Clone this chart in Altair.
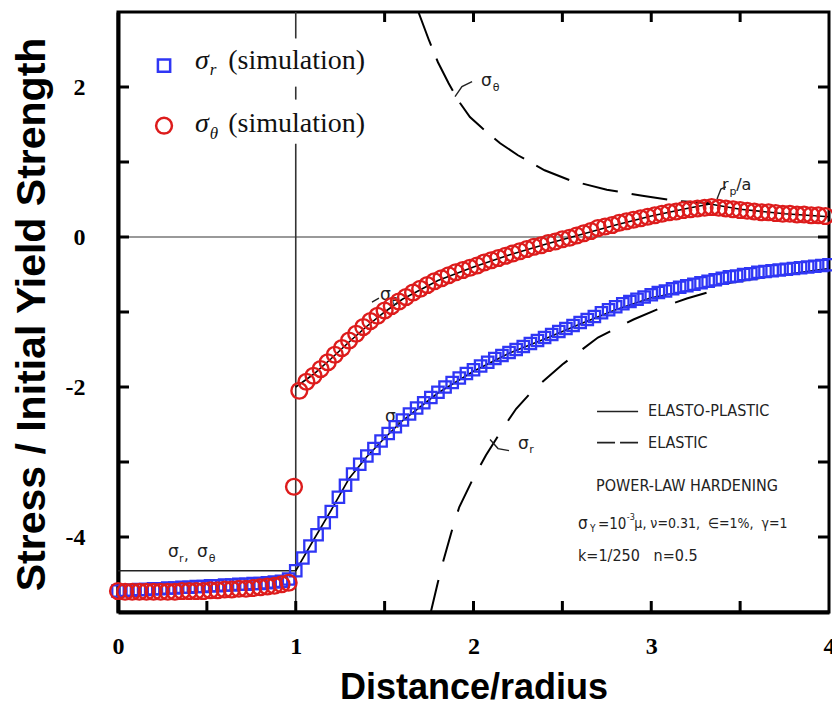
import altair as alt
import pandas as pd

# ---------------- simulation results ----------------
# sigma_r (squares)
sim_r_x = [0.00, 0.04, 0.08, 0.12, 0.16, 0.20, 0.24, 0.28, 0.32, 0.36,
           0.40, 0.44, 0.48, 0.52, 0.56, 0.60, 0.64, 0.68, 0.72, 0.76,
           0.80, 0.84, 0.88, 0.92, 0.96, 1.00, 1.04, 1.08, 1.12, 1.16,
           1.20, 1.24, 1.28, 1.32, 1.36, 1.40, 1.44, 1.48, 1.52, 1.56,
           1.60, 1.64, 1.68, 1.72, 1.76, 1.80, 1.84, 1.88, 1.92, 1.96,
           2.00, 2.04, 2.08, 2.12, 2.16, 2.20, 2.24, 2.28, 2.32, 2.36,
           2.40, 2.44, 2.48, 2.52, 2.56, 2.60, 2.64, 2.68, 2.72, 2.76,
           2.80, 2.84, 2.88, 2.92, 2.96, 3.00, 3.04, 3.08, 3.12, 3.16,
           3.20, 3.24, 3.28, 3.32, 3.36, 3.40, 3.44, 3.48, 3.52, 3.56,
           3.60, 3.64, 3.68, 3.72, 3.76, 3.80, 3.84, 3.88, 3.92, 3.96,
           4.00]
sim_r_y = [-4.72, -4.71, -4.71, -4.70, -4.70, -4.69, -4.69, -4.68, -4.68, -4.67,
           -4.67, -4.66, -4.66, -4.65, -4.65, -4.64, -4.64, -4.63, -4.63, -4.62,
           -4.62, -4.61, -4.60, -4.59, -4.56, -4.45, -4.28, -4.12, -3.97, -3.81,
           -3.66, -3.47, -3.31, -3.16, -3.03, -2.92, -2.82, -2.72, -2.62, -2.53,
           -2.44, -2.36, -2.28, -2.21, -2.14, -2.07, -2.00, -1.94, -1.88, -1.82,
           -1.77, -1.72, -1.67, -1.62, -1.58, -1.54, -1.50, -1.46, -1.42, -1.38,
           -1.34, -1.30, -1.26, -1.22, -1.18, -1.14, -1.10, -1.06, -1.01, -0.97,
           -0.93, -0.89, -0.86, -0.83, -0.80, -0.77, -0.74, -0.72, -0.69, -0.67,
           -0.65, -0.63, -0.61, -0.59, -0.57, -0.55, -0.53, -0.52, -0.50, -0.49,
           -0.47, -0.46, -0.45, -0.44, -0.43, -0.42, -0.41, -0.40, -0.39, -0.38,
           -0.37]

# sigma_theta (circles)
sim_t_x = [0.00, 0.04, 0.08, 0.12, 0.16, 0.20, 0.24, 0.28, 0.32, 0.36,
           0.40, 0.44, 0.48, 0.52, 0.56, 0.60, 0.64, 0.68, 0.72, 0.76,
           0.80, 0.84, 0.88, 0.92, 0.96, 0.99,
           1.02, 1.06, 1.10, 1.14, 1.18, 1.22, 1.26, 1.30, 1.34, 1.38,
           1.42, 1.46, 1.50, 1.54, 1.58, 1.62, 1.66, 1.70, 1.74, 1.78,
           1.82, 1.86, 1.90, 1.94, 1.98, 2.02, 2.06, 2.10, 2.14, 2.18,
           2.22, 2.26, 2.30, 2.34, 2.38, 2.42, 2.46, 2.50, 2.54, 2.58,
           2.62, 2.66, 2.70, 2.74, 2.78, 2.82, 2.86, 2.90, 2.94, 2.98,
           3.02, 3.06, 3.10, 3.14, 3.18, 3.22, 3.26, 3.30, 3.34, 3.38,
           3.42, 3.46, 3.50, 3.54, 3.58, 3.62, 3.66, 3.70, 3.74, 3.78,
           3.82, 3.86, 3.90, 3.94, 3.98]
sim_t_y = [-4.72, -4.73, -4.73, -4.73, -4.73, -4.73, -4.73, -4.73, -4.73, -4.72,
           -4.72, -4.72, -4.72, -4.71, -4.71, -4.70, -4.70, -4.69, -4.69, -4.68,
           -4.67, -4.66, -4.65, -4.63, -4.61, -3.33,
           -2.05, -1.93, -1.85, -1.76, -1.67, -1.57, -1.48, -1.38, -1.29, -1.20,
           -1.12, -1.05, -0.98, -0.92, -0.86, -0.80, -0.74, -0.69, -0.64, -0.59,
           -0.55, -0.51, -0.47, -0.44, -0.41, -0.38, -0.34, -0.31, -0.28, -0.25,
           -0.22, -0.19, -0.16, -0.13, -0.11, -0.08, -0.06, -0.03, -0.01, 0.02,
           0.05, 0.08, 0.12, 0.14, 0.16, 0.19, 0.21, 0.23, 0.25, 0.27,
           0.29, 0.31, 0.33, 0.34, 0.36, 0.37, 0.38, 0.39, 0.40, 0.39,
           0.38, 0.37, 0.36, 0.35, 0.34, 0.33, 0.33, 0.32, 0.31, 0.31,
           0.30, 0.30, 0.29, 0.29, 0.28]

# ---------------- analytical curves ----------------
# elasto-plastic (solid)
ep_t_x = [1.00, 1.10, 1.20, 1.30, 1.40, 1.50, 1.60, 1.80, 2.00, 2.20,
          2.40, 2.60, 2.80, 3.00, 3.20, 3.33, 3.50, 3.75, 4.00]
ep_t_y = [-2.00, -1.83, -1.62, -1.40, -1.19, -1.00, -0.83, -0.58, -0.40, -0.24,
          -0.10, 0.03, 0.16, 0.28, 0.38, 0.44, 0.37, 0.31, 0.27]
ep_r_x = [1.00, 1.10, 1.20, 1.30, 1.40, 1.50, 1.60, 1.80, 2.00, 2.20,
          2.40, 2.60, 2.80, 3.00, 3.33, 3.50, 3.75, 4.00]
ep_r_y = [-4.45, -4.04, -3.64, -3.22, -2.93, -2.68, -2.45, -2.08, -1.79, -1.55,
          -1.36, -1.16, -0.97, -0.81, -0.66, -0.59, -0.50, -0.42]
core_x = [0.00, 1.00]
core_y = [-4.45, -4.45]

# elastic (dashed)
el_t_x = [1.69, 1.75, 1.80, 1.86, 1.92, 1.98, 2.05, 2.15, 2.25, 2.40,
          2.55, 2.75, 2.95, 3.15, 3.33]
el_t_y = [3.00, 2.62, 2.33, 2.05, 1.80, 1.60, 1.45, 1.25, 1.09, 0.89,
          0.75, 0.63, 0.55, 0.48, 0.45]
el_r_x = [1.76, 1.80, 1.83, 1.88, 1.92, 2.00, 2.07, 2.16, 2.24, 2.34,
          2.50, 2.70, 2.90, 3.07, 3.20, 3.33]
el_r_y = [-5.00, -4.60, -4.32, -3.90, -3.60, -3.21, -2.91, -2.57, -2.29, -2.03,
          -1.70, -1.34, -1.10, -0.93, -0.82, -0.73]

# ---------------- reference lines and frame ticks ----------------
zero_x = [0.0, 4.0]
zero_y = [0.0, 0.0]
unit_lo = [-5.0, 1.832, 2.647]     # x = 1 line, broken behind the legend rows
unit_hi = [1.243, 2.005, 3.0]
ticks_bottom = [0.5, 1.0, 1.5, 2.0, 2.5, 3.0, 3.5]
ticks_top = [1.5, 2.0, 2.5, 3.0, 3.5]
ticks_side = [-4, -3, -2, -1, 0, 1, 2]

# ---------------- annotations ----------------
anno_t = ["σ", "θ", "r", "p", "/a", "σ", "θ", "σ", "r", "σ", "r", "σ", "r", ",", "σ", "θ"]
anno_x = [2.042, 2.108, 3.398, 3.440, 3.478, 1.474, 1.540, 1.502, 1.566,
          2.250, 2.314, 0.281, 0.343, 0.372, 0.444, 0.510]
anno_y = [2.019, 1.952, 0.628, 0.561, 0.628, -0.842, -0.909, -2.473, -2.540,
          -2.821, -2.874, -4.265, -4.332, -4.305, -4.265, -4.332]
anno_s = [17, 11, 16, 11, 16, 17, 11, 17, 11, 17, 11, 17, 11, 15, 17, 11]

lead_id = [0, 0, 0, 1, 1, 1, 2, 2, 3, 3, 3]
lead_x = [1.896, 1.935, 1.992, 3.370, 3.392, 3.420, 1.429, 1.468, 2.093, 2.138, 2.200]
lead_y = [1.872, 2.005, 2.072, 0.508, 0.640, 0.668, -0.869, -0.816, -2.701, -2.821, -2.848]

# key of line styles and parameters (lower right)
NB = "\u00a0"
key_t = ["ELASTO-PLASTIC", "ELASTIC", "k=1/250" + NB * 3 + "n=0.5"]
key_x = [2.982, 2.982, 2.588]
key_y = [-2.326, -2.741, -4.251]
key_head = "POWER-LAW HARDENING"
key_head_xy = (3.201, -3.316)
param_t = ["σ", "Y", "=10", "-3", "μ," + NB + "ν=0.31," + NB * 2 + "∈=1%," + NB * 2 + "γ=1"]
param_x = [2.588, 2.655, 2.700, 2.862, 2.905]
param_y = [-3.824, -3.890, -3.824, -3.730, -3.824]
param_s = [17, 10, 15, 9, 14]
solid_key_x = [2.695, 2.926]
solid_key_y = [-2.326, -2.326]
dash_key_x = [2.695, 2.926]
dash_key_y = [-2.741, -2.741]

# legend of simulation markers (upper left)
leg_sym_x = [0.259, 0.259]
leg_sym_y = [2.286, 1.484]
leg_main_t = ["σ", "σ"]
leg_main_x = [0.433, 0.433]
leg_main_y = [2.246, 1.404]
leg_sub_t = ["r", "θ"]
leg_sub_x = [0.516, 0.516]
leg_sub_y = [2.166, 1.310]
leg_txt_t = ["(simulation)", "(simulation)"]
leg_txt_x = [0.620, 0.620]
leg_txt_y = [2.246, 1.404]

BLUE = "#2f36f5"
RED = "#dd1c1c"
NARROW = "Liberation Sans Narrow, DejaVu Sans Condensed, Roboto Condensed, sans-serif"

xs = alt.Scale(domain=[0, 4], nice=False, zero=False)
ys = alt.Scale(domain=[-5, 3], nice=False, zero=False)
x_axis = alt.Axis(values=[0, 1, 2, 3, 4], ticks=False, grid=False,
                  domainColor="black", domainWidth=4,
                  labelFont="Liberation Serif", labelFontWeight="bold",
                  labelFontSize=24, labelColor="black", labelPadding=22,
                  labelOverlap=False, labelFlush=False,
                  title="Distance/radius", titleFont="Liberation Sans",
                  titleFontSize=36, titleFontWeight="bold", titleColor="black",
                  titleY=86, titleBaseline="alphabetic")
y_axis = alt.Axis(values=[-4, -2, 0, 2], ticks=False, grid=False,
                  domainColor="black", domainWidth=4,
                  labelFont="Liberation Serif", labelFontWeight="bold",
                  labelFontSize=24, labelColor="black", labelPadding=33,
                  labelExpr="datum.value < 0 ? '-' + abs(datum.value) : '' + datum.value",
                  title="Stress / Initial Yield Strength", titleFont="Liberation Sans",
                  titleFontSize=41, titleFontWeight="bold", titleColor="black",
                  titleAngle=270, titleX=-86, titleY=302,
                  titleAlign="center", titleBaseline="middle")


def X(f="x"):
    return alt.X(f, type="quantitative", scale=xs, axis=x_axis)


def Y(f="y"):
    return alt.Y(f, type="quantitative", scale=ys, axis=y_axis)


def df(**cols):
    return pd.DataFrame(cols)


layers = []

# reference lines
layers.append(alt.Chart(df(x=zero_x, y=zero_y)).mark_line(color="#777", strokeWidth=1.5)
              .encode(x=X(), y=Y()))
layers.append(alt.Chart(df(x=[1.0] * 3, y=unit_lo, y2=unit_hi))
              .mark_rule(color="#333", strokeWidth=1.6)
              .encode(x=X(), y=Y(), y2="y2:Q"))

# analytical solutions
layers.append(alt.Chart(df(x=core_x, y=core_y)).mark_line(color="#222", strokeWidth=1.6)
              .encode(x=X(), y=Y()))
layers.append(alt.Chart(df(x=ep_t_x, y=ep_t_y)).mark_line(color="black", strokeWidth=1.6)
              .encode(x=X(), y=Y()))
layers.append(alt.Chart(df(x=ep_r_x, y=ep_r_y)).mark_line(color="black", strokeWidth=1.6)
              .encode(x=X(), y=Y()))
layers.append(alt.Chart(df(x=el_t_x, y=el_t_y))
              .mark_line(color="black", strokeWidth=2, strokeDash=[36, 14], clip=True)
              .encode(x=X(), y=Y()))
layers.append(alt.Chart(df(x=el_r_x, y=el_r_y))
              .mark_line(color="black", strokeWidth=2, strokeDash=[33, 19], clip=True)
              .encode(x=X(), y=Y()))

# curve annotations
layers.append(alt.Chart(df(i=lead_id, x=lead_x, y=lead_y))
              .mark_line(color="#222", strokeWidth=1.4)
              .encode(x=X(), y=Y(), detail="i:N", order="i:Q"))
layers.append(alt.Chart(df(t=anno_t, x=anno_x, y=anno_y, s=anno_s))
              .mark_text(font="DejaVu Sans", color="#222", align="left", baseline="alphabetic")
              .encode(x=X(), y=Y(), text="t:N", size=alt.Size("s:Q", scale=None)))

# line-style key and parameters
layers.append(alt.Chart(df(x=solid_key_x, y=solid_key_y)).mark_line(color="#222", strokeWidth=1.6)
              .encode(x=X(), y=Y()))
layers.append(alt.Chart(df(x=dash_key_x, y=dash_key_y))
              .mark_line(color="#222", strokeWidth=1.6, strokeDash=[18, 5])
              .encode(x=X(), y=Y()))
layers.append(alt.Chart(df(t=key_t, x=key_x, y=key_y))
              .mark_text(font=NARROW, fontSize=16, color="#222", align="left", baseline="middle")
              .encode(x=X(), y=Y(), text="t:N"))
layers.append(alt.Chart(df(t=[key_head], x=[key_head_xy[0]], y=[key_head_xy[1]]))
              .mark_text(font=NARROW, fontSize=16, color="#222", align="center", baseline="middle")
              .encode(x=X(), y=Y(), text="t:N"))
layers.append(alt.Chart(df(t=param_t, x=param_x, y=param_y, s=param_s))
              .mark_text(font=NARROW, color="#222", align="left", baseline="middle")
              .encode(x=X(), y=Y(), text="t:N", size=alt.Size("s:Q", scale=None)))

# simulation markers
layers.append(alt.Chart(df(x=sim_r_x, y=sim_r_y))
              .mark_point(shape="square", size=130, stroke=BLUE, strokeWidth=2.3, filled=False, opacity=1)
              .encode(x=X(), y=Y()))
layers.append(alt.Chart(df(x=sim_t_x, y=sim_t_y))
              .mark_point(shape="circle", size=250, stroke=RED, strokeWidth=2.4, filled=False, opacity=1)
              .encode(x=X(), y=Y()))

# marker legend
layers.append(alt.Chart(df(x=leg_sym_x[:1], y=leg_sym_y[:1]))
              .mark_point(shape="square", size=150, stroke=BLUE, strokeWidth=2.5, filled=False, opacity=1)
              .encode(x=X(), y=Y()))
layers.append(alt.Chart(df(x=leg_sym_x[1:], y=leg_sym_y[1:]))
              .mark_point(shape="circle", size=250, stroke=RED, strokeWidth=2.5, filled=False, opacity=1)
              .encode(x=X(), y=Y()))
layers.append(alt.Chart(df(t=leg_main_t, x=leg_main_x, y=leg_main_y))
              .mark_text(font="Liberation Serif", fontStyle="italic", fontSize=28, color="#111",
                         align="left", baseline="alphabetic")
              .encode(x=X(), y=Y(), text="t:N"))
layers.append(alt.Chart(df(t=leg_sub_t, x=leg_sub_x, y=leg_sub_y))
              .mark_text(font="Liberation Serif", fontStyle="italic", fontSize=17, color="#111",
                         align="left", baseline="alphabetic")
              .encode(x=X(), y=Y(), text="t:N"))
layers.append(alt.Chart(df(t=leg_txt_t, x=leg_txt_x, y=leg_txt_y))
              .mark_text(font="Liberation Serif", fontSize=28, color="#111",
                         align="left", baseline="alphabetic")
              .encode(x=X(), y=Y(), text="t:N"))

# inward frame ticks
layers.append(alt.Chart(df(x=ticks_bottom)).mark_rule(color="black", strokeWidth=3)
              .encode(x=X(), y=alt.value(589), y2=alt.value(600)))
layers.append(alt.Chart(df(x=ticks_top)).mark_rule(color="black", strokeWidth=3)
              .encode(x=X(), y=alt.value(0), y2=alt.value(10)))
layers.append(alt.Chart(df(y=ticks_side)).mark_rule(color="black", strokeWidth=3)
              .encode(y=Y(), x=alt.value(0), x2=alt.value(11)))
layers.append(alt.Chart(df(y=ticks_side)).mark_rule(color="black", strokeWidth=3)
              .encode(y=Y(), x=alt.value(700), x2=alt.value(711)))

chart = (
    alt.layer(*layers)
    .properties(width=711, height=600,
                autosize=alt.AutoSizeParams(type="none"),
                padding={"left": 118, "top": 12, "right": 3, "bottom": 93},
                background="white")
    .configure_view(stroke="black", strokeWidth=3)
)

chart.save("out.html", embed_options={"renderer": "svg", "actions": False})
